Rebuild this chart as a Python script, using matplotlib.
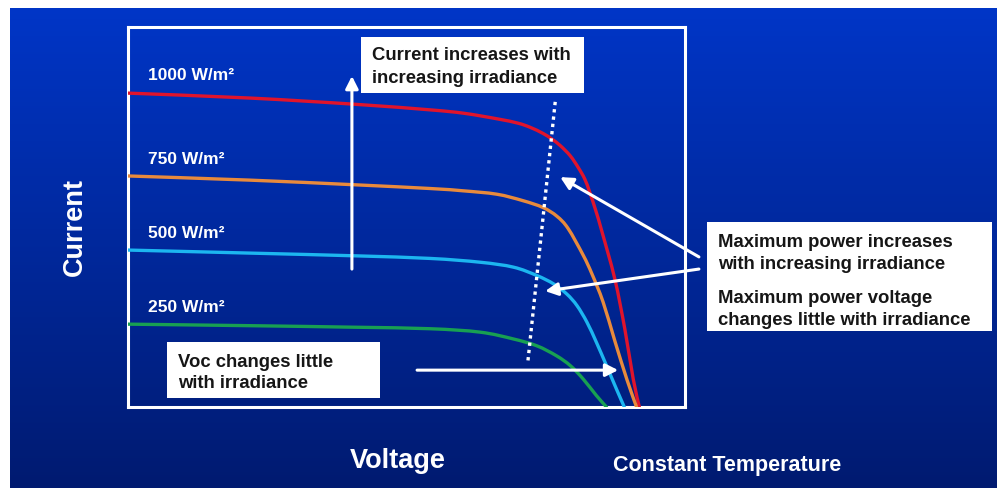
import matplotlib
matplotlib.use('Agg')
import matplotlib.pyplot as plt
import numpy as np
from matplotlib.patches import Rectangle, PathPatch
from matplotlib.path import Path

plt.rcParams['font.family'] = ['Liberation Sans', 'DejaVu Sans']

# I-V curves (voltage and current in % of axis range)
v_1000 = [0, 21.9, 40.4, 54.2, 60.3, 66.4, 70.0, 72.2, 74.5, 76.1, 77.6, 79.4, 80.8, 82.0, 82.9, 84.0, 85.1, 87.4, 89.2, 90.7, 91.8]
i_1000 = [82.6, 81.3, 79.7, 78.2, 77.3, 75.8, 74.7, 73.6, 72.0, 70.5, 68.8, 66.1, 63.1, 60.0, 56.5, 51.6, 46.1, 33.7, 20.5, 7.4, 0]
v_750 = [0, 21.9, 40.4, 54.2, 60.1, 66.2, 70.9, 74.5, 77.0, 79.0, 81.7, 83.3, 85.3, 87.4, 89.6, 91.3]
i_750 = [60.8, 59.7, 58.5, 57.5, 56.9, 56.0, 54.3, 52.5, 50.2, 47.0, 40.0, 35.0, 27.6, 17.4, 7.1, 0]
v_500 = [0, 21.9, 40.4, 54.2, 63.2, 69.2, 73.4, 76.4, 78.8, 80.6, 82.4, 84.1, 85.9, 87.7, 89.1]
i_500 = [41.3, 40.5, 39.8, 39.1, 38.1, 36.8, 34.6, 32.4, 29.7, 26.7, 22.3, 17.0, 10.9, 4.7, 0]
v_250 = [0, 21.9, 40.4, 54.2, 63.2, 69.2, 73.4, 76.9, 79.4, 81.7, 84.1, 85.9]
i_250 = [21.8, 21.4, 21.0, 20.6, 19.7, 17.9, 16.1, 13.5, 10.9, 7.4, 3.0, 0]

labels = ['1000 W/m²', '750 W/m²', '500 W/m²', '250 W/m²']
colors = ['#e0142c', '#e88a3c', '#1cb6f0', '#18a052']

# max power locus (dotted)
mpp_v = [76.7, 71.8]
mpp_i = [80.3, 12.1]

W, H = 997, 489
fig = plt.figure(figsize=(W / 100, H / 100), dpi=100)
fig.patch.set_facecolor('white')


def fx(x):
    return x / W


def fy(y):
    return 1 - y / H


def smooth_path(v, i):
    # Catmull-Rom through the read points, drawn as cubic Bezier segments
    p = np.column_stack([v, i]).astype(float)
    p = np.vstack([p[0], p, p[-1]])
    verts = [p[1]]
    codes = [Path.MOVETO]
    for k in range(1, len(p) - 2):
        c1 = p[k] + (p[k + 1] - p[k - 1]) / 6
        c2 = p[k + 1] - (p[k + 2] - p[k]) / 6
        verts += [c1, c2, p[k + 1]]
        codes += [Path.CURVE4] * 3
    return Path(verts, codes)


# gradient background
bg = fig.add_axes([fx(10), 0, 1 - fx(10), fy(9)])
top = np.array([0.0, 0.21, 0.78])
bot = np.array([0.0, 0.10, 0.43])
t = np.linspace(0, 1, 256)[:, None]
grad = top[None, None, :] * (1 - t[..., None]) + bot[None, None, :] * t[..., None]
grad = np.repeat(grad, 4, axis=1)
bg.imshow(grad, aspect='auto', extent=[-0.02, 1.02, -0.03, 1.0])
bg.set_xlim(0, 1)
bg.set_ylim(0, 1)
bg.axis('off')

ax = fig.add_axes([fx(128), fy(408), fx(685 - 128), (408 - 28) / H])
ax.set_facecolor('none')
ax.set_xlim(0, 100)
ax.set_ylim(0, 100)
ax.set_xticks([])
ax.set_yticks([])
for s in ax.spines.values():
    s.set_color('white')
    s.set_linewidth(2.2)

curves = [(v_1000, i_1000), (v_750, i_750), (v_500, i_500), (v_250, i_250)]
for (v, i), c in zip(curves, colors):
    ax.add_patch(PathPatch(smooth_path(v, i), facecolor='none', edgecolor=c,
                           lw=2.4, capstyle='round', zorder=3))

ax.plot(mpp_v, mpp_i, color='white', lw=2.4, linestyle=(0, (1, 1.2)), zorder=4)

arrow = dict(arrowstyle='-|>,head_length=0.75,head_width=0.38', color='white', lw=2.2,
             shrinkA=0, shrinkB=0)
# current increases
ax.annotate('', xy=(40.2, 87.1), xytext=(40.2, 36.3), arrowprops=arrow, zorder=5)
# Voc
ax.annotate('', xy=(88.0, 9.7), xytext=(51.9, 9.7), arrowprops=arrow, zorder=5)
# max power
ax.annotate('', xy=(77.6, 60.5), xytext=(102.5, 39.5), arrowprops=arrow, zorder=5,
            annotation_clip=False)
ax.annotate('', xy=(74.9, 30.5), xytext=(102.5, 36.3), arrowprops=arrow, zorder=5,
            annotation_clip=False)

# white boxes
boxes = [(361, 38, 584, 94), (707, 223, 992, 332), (167, 343, 380, 399)]
for x0, y0, x1, y1 in boxes:
    fig.patches.append(Rectangle((fx(x0), fy(y1)), fx(x1 - x0), (y1 - y0) / H,
                                 transform=fig.transFigure, facecolor='white',
                                 edgecolor='none', zorder=6))

tk = dict(color='#161616', fontsize=13.3, fontweight='bold', va='baseline', zorder=7)
fig.text(fx(372), fy(60), 'Current increases with', **tk)
fig.text(fx(372), fy(83), 'increasing irradiance', **tk)
fig.text(fx(718), fy(247), 'Maximum power increases', **tk)
fig.text(fx(718), fy(269), 'with increasing irradiance', **tk)
fig.text(fx(718), fy(303), 'Maximum power voltage', **tk)
fig.text(fx(718), fy(325), 'changes little with irradiance', **tk)
fig.text(fx(178), fy(367), 'Voc changes little', **tk)
fig.text(fx(178), fy(388), 'with irradiance', **tk)

lab_y = [80, 164, 238, 312]
for lab, y in zip(labels, lab_y):
    fig.text(fx(148), fy(y), lab, color='white', fontsize=12.5, fontweight='bold', va='baseline')

fig.text(fx(75), fy(227), 'Current', color='white', fontsize=19.5, fontweight='bold',
         rotation=90, ha='center', va='center')
fig.text(fx(398), fy(461), 'Voltage', color='white', fontsize=19.5, fontweight='bold',
         ha='center', va='center')
fig.text(fx(613), fy(466), 'Constant Temperature', color='white', fontsize=15.5, fontweight='bold',
         ha='left', va='center')

fig.savefig('out.png', dpi=100)
